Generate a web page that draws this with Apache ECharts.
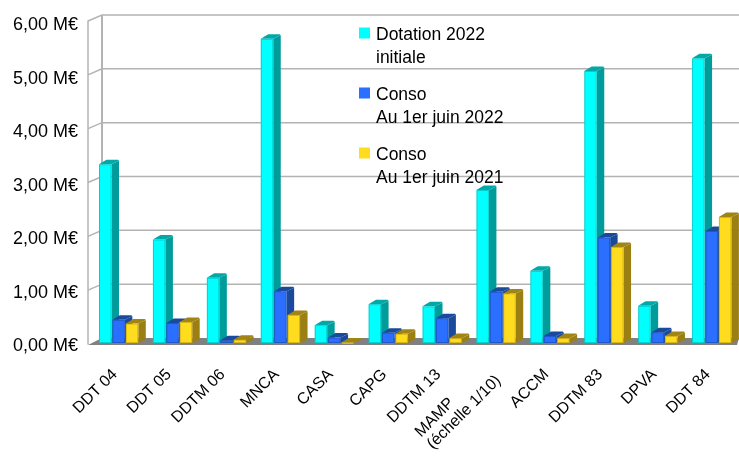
<!DOCTYPE html>
<html>
<head>
<meta charset="utf-8">
<script src="https://cdn.jsdelivr.net/npm/echarts@6/dist/echarts.min.js"></script>
<style>html,body{margin:0;padding:0;background:#fff}#c{width:739px;height:457px}</style>
</head>
<body>
<div id="c"></div>
<script>
const categories = ['DDT 04','DDT 05','DDTM 06','MNCA','CASA','CAPG','DDTM 13','MAMP\n(échelle 1/10)','ACCM','DDTM 83','DPVA','DDT 84'];
const dotation2022 = [3.34,1.94,1.23,5.67,0.35,0.74,0.70,2.86,1.36,5.07,0.71,5.31];
const conso2022 = [0.45,0.39,0.07,0.98,0.12,0.21,0.48,0.97,0.15,1.98,0.22,2.10];
const conso2021 = [0.38,0.41,0.08,0.54,0.03,0.19,0.11,0.94,0.11,1.80,0.15,2.36];
const yTicks = [0,1,2,3,4,5,6];
const seriesNames = ['Dotation 2022\ninitiale','Conso\nAu 1er juin 2022','Conso\nAu 1er juin 2021'];

const DX = 7.5, DY = 4.5, BW = 12.5, WALLX = 14, WALLY = 6;
const FONT = '"Liberation Sans", Arial, sans-serif';

function barRenderer(offset, front, edge, side, topc) {
  return function (params, api) {
    const idx = api.value(0), v = api.value(1);
    const top = api.coord([idx, v]);
    const base = api.coord([idx, 0]);
    const band = api.size([1, 0])[0];
    const x = top[0] - band / 2 + offset, y = top[1], b = base[1] - 1;
    return {
      type: 'group',
      children: [
        { type: 'polygon', shape: { points: [[x + BW, y], [x + BW + DX, y - DY + 1], [x + BW + DX, b - DY + 1], [x + BW, b]] }, style: { fill: side } },
        { type: 'polygon', shape: { points: [[x, y], [x + 2 + DX * 0.5, y - DY + 1], [x + BW * 0.6, y - DY], [x + BW + DX - 1, y - DY], [x + BW + DX, y - DY + 1], [x + BW, y]] }, style: { fill: topc } },
        { type: 'rect', shape: { x: x, y: y, width: BW, height: Math.max(b - y, 1) }, style: { fill: edge } },
        { type: 'rect', shape: { x: x + 1, y: y + 1, width: BW - 2, height: Math.max(b - y - 2, 0.5) }, style: { fill: front } }
      ]
    };
  };
}

function wallRenderer(params, api) {
  const v = api.value(1);
  const p = api.coord([0, v]);
  const left = params.coordSys.x, right = params.coordSys.x + params.coordSys.width;
  const children = [];
  const lineStyle = { stroke: '#b3b3b3', lineWidth: 1.5, fill: null };
  if (v === 0) {
    children.push({ type: 'polygon', shape: { points: [[left, p[1] + 1], [left + WALLX, p[1] - WALLY], [739, p[1] - WALLY], [right + 2, p[1] + 1]] }, style: { fill: '#808080' } });
  } else {
    children.push({ type: 'polyline', shape: { points: [[left, p[1]], [left + WALLX, p[1] - WALLY], [739, p[1] - WALLY]] }, style: lineStyle });
  }
  if (v === 6) {
    children.push({ type: 'line', shape: { x1: left + WALLX, y1: p[1] - WALLY, x2: left + WALLX, y2: api.coord([0, 0])[1] - WALLY }, style: { stroke: '#b3b3b3', lineWidth: 2 } });
  }
  return { type: 'group', children };
}

function barSeries(name, values, offset, front, edge, side, topc) {
  return {
    name, type: 'custom', z: 5, clip: false,
    renderItem: barRenderer(offset, front, edge, side, topc),
    itemStyle: { color: front },
    encode: { x: 0, y: 1 },
    data: values.map((v, i) => [i, v])
  };
}

const chart = echarts.init(document.getElementById('c'), null, { renderer: 'canvas' });
chart.setOption({
  animation: false,
  backgroundColor: '#fff',
  grid: [
    { left: 88, right: 4, top: 21, bottom: 113 },
    { left: 88, right: 4, top: 25.5, bottom: 110.5 }
  ],
  legend: {
    show: true,
    data: seriesNames,
    orient: 'vertical',
    left: 354, top: 19,
    itemGap: 14,
    itemWidth: 11, itemHeight: 46,
    icon: 'path://M0 3.5H11V14.5H0Z M0 0H0.01V0.01H0Z M0 46H0.01V46H0Z',
    selectedMode: false,
    textStyle: { fontFamily: FONT, fontSize: 17.5, lineHeight: 23, color: '#000', padding: [0, 0, 0, 1] }
  },
  xAxis: [{
    type: 'category',
    data: categories,
    axisLine: { show: false },
    axisTick: { show: false },
    splitLine: { show: false },
    axisLabel: {
      interval: 0, rotate: 45, margin: 28, fontFamily: FONT, fontSize: 16, lineHeight: 17, color: '#000',
      formatter: s => s.includes('\n') ? s.split('\n').map(l => '{a|' + l + '}').join('\n') : s,
      rich: { a: { width: 97, align: 'left', fontFamily: FONT, fontSize: 16, lineHeight: 17, color: '#000' } }
    }
  }, {
    type: 'value', gridIndex: 1, show: false, min: 0, max: 1
  }],
  yAxis: [{
    type: 'value', min: 0, max: 6, interval: 1,
    axisLine: { show: true, lineStyle: { color: '#b3b3b3', width: 1.5 } },
    axisTick: { show: false },
    splitLine: { show: false },
    axisLabel: { show: false }
  }, {
    type: 'value', gridIndex: 1, min: 0, max: 6, interval: 1,
    axisLine: { show: false },
    axisTick: { show: false },
    splitLine: { show: false },
    axisLabel: {
      margin: 10, fontFamily: FONT, fontSize: 18, color: '#000',
      formatter: v => v.toFixed(2).replace('.', ',') + ' M€'
    }
  }],
  series: [
    { type: 'custom', name: 'wall', z: 1, clip: false, silent: true, renderItem: wallRenderer, encode: { x: 0, y: 1 }, data: yTicks.map(v => [0, v]) },
    barSeries(seriesNames[0], dotation2022, 11.0, '#00ffff', '#00d0d0', '#009c9c', '#00a8a8'),
    barSeries(seriesNames[1], conso2022, 24.4, '#2a6fff', '#2058c8', '#1a4a9c', '#1a4a9c'),
    barSeries(seriesNames[2], conso2021, 37.8, '#ffdc1e', '#d8b418', '#9c7f12', '#a08414')
  ]
});
</script>
</body>
</html>
